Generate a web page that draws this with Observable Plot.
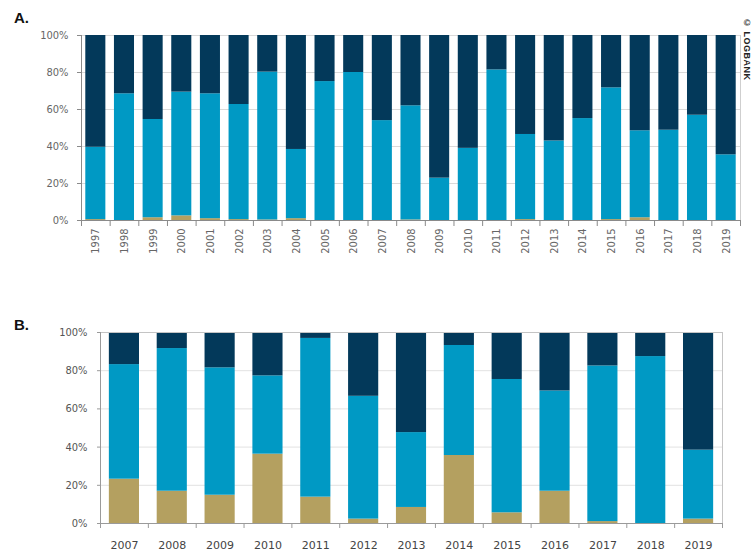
<!DOCTYPE html>
<html><head><meta charset="utf-8">
<script src="https://cdn.jsdelivr.net/npm/d3@7"></script>
<script src="https://cdn.jsdelivr.net/npm/@observablehq/plot@0.6"></script>
<style>
body{margin:0;background:#fff;}
#wrap{position:relative;width:755px;height:554px;overflow:hidden;font-family:"Liberation Sans",Arial,sans-serif;}
.panel{position:absolute;left:0;}
.lab{position:absolute;font:bold 15px "Liberation Sans",Arial,sans-serif;color:#111;}
#copy{position:absolute;left:742px;top:18px;writing-mode:vertical-rl;font:bold 9px "Liberation Sans",Arial,sans-serif;color:#222;letter-spacing:0.5px;}
</style></head><body>
<div id="wrap">
<div id="pa" class="panel" style="top:0"></div>
<div id="pb" class="panel" style="top:300px"></div>
<div class="lab" style="left:14px;top:9px">A.</div>
<div class="lab" style="left:14px;top:316px">B.</div>
<div id="copy">© LOGBANK</div>
</div>
<script>
// ---- Panel A data (share in %) ----
const yearsA = ["1997","1998","1999","2000","2001","2002","2003","2004","2005","2006","2007","2008","2009","2010","2011","2012","2013","2014","2015","2016","2017","2018","2019"];
const seg1A = [0.5, 0, 1.5, 2.5, 1.0, 0.5, 0.3, 1.0, 0, 0, 0, 0.3, 0, 0, 0, 0.5, 0, 0, 0.5, 1.5, 0, 0, 0];
const seg2A = [39.1, 68.5, 53.1, 66.9, 67.5, 62.2, 79.9, 37.4, 75.1, 80.0, 54.0, 61.7, 22.9, 39.0, 81.4, 46.0, 43.0, 55.1, 71.2, 47.0, 48.8, 56.9, 35.5];
const seg3A = [60.4, 31.5, 45.4, 30.6, 31.5, 37.3, 19.8, 61.6, 24.9, 20.0, 46.0, 38.0, 77.1, 61.0, 18.6, 53.5, 57.0, 44.9, 28.3, 51.5, 51.2, 43.1, 64.5];

// ---- Panel B data (share in %) ----
const yearsB = ["2007","2008","2009","2010","2011","2012","2013","2014","2015","2016","2017","2018","2019"];
const seg1B = [23.2, 16.9, 14.8, 36.3, 13.8, 2.3, 8.4, 35.6, 5.6, 16.9, 1.0, 0, 2.3];
const seg2B = [60.0, 74.7, 66.7, 41.0, 83.1, 64.3, 39.2, 57.6, 69.8, 52.5, 81.5, 87.4, 36.1];
const seg3B = [16.8, 8.4, 18.5, 22.7, 3.1, 33.4, 52.4, 6.8, 24.6, 30.6, 17.5, 12.6, 61.6];

const categories = ["segment 1", "segment 2", "segment 3"];
const colors = ["#b4a060", "#0099c4", "#03395a"];
const yTicks = [0, 20, 40, 60, 80, 100];

function toRows(years, s1, s2, s3) {
  return years.flatMap((y, i) => [
    {year: y, cat: categories[0], value: s1[i]},
    {year: y, cat: categories[1], value: s2[i]},
    {year: y, cat: categories[2], value: s3[i]}
  ]);
}

const W = 755;
const condensed = "'DejaVu Sans Condensed', 'Liberation Sans Narrow', 'DejaVu Sans', sans-serif";

// ---- Panel A ----
{
  const ml = 81, mr = 15, pi = 0.3;
  const step = (W - ml - mr) / yearsA.length;
  const chart = Plot.plot({
    width: W, height: 270,
    marginLeft: ml, marginRight: mr, marginTop: 35, marginBottom: 50,
    style: {fontFamily: condensed, fontSize: "11px", color: "#666", background: "transparent"},
    x: {type: "band", domain: yearsA, paddingInner: pi, paddingOuter: pi / 2, round: false},
    y: {domain: [0, 100]},
    color: {type: "ordinal", domain: categories, range: colors},
    marks: [
      Plot.gridY(yTicks.slice(1), {stroke: "#dadada", strokeOpacity: 1}),
      Plot.barY(toRows(yearsA, seg1A, seg2A, seg3A), {x: "year", y: "value", fill: "cat"}),
      Plot.frame({anchor: "right", stroke: "#cfcfcf"}),
      Plot.frame({anchor: "left", stroke: "#8a8a8a"}),
      Plot.ruleY([0], {stroke: "#8a8a8a"}),
      Plot.axisY({ticks: yTicks, tickFormat: d => d + "%", tickSize: 4, tickPadding: 9, color: "#8a8a8a", fill: "#666", label: null}),
      Plot.axisX({tickSize: 0, tickRotate: -90, tickPadding: 8, fill: "#666", label: null}),
      Plot.axisX({tickSize: 6, tickFormat: () => "", dx: -step / 2, color: "#8a8a8a", label: null}),
      Plot.axisX({ticks: [yearsA[yearsA.length - 1]], tickSize: 6, tickFormat: () => "", dx: step / 2, color: "#8a8a8a", label: null})
    ]
  });
  document.getElementById("pa").appendChild(chart);
}

// ---- Panel B ----
{
  const ml = 100, mr = 33, pi = 0.37;
  const step = (W - ml - mr) / yearsB.length;
  const chart = Plot.plot({
    width: W, height: 254,
    marginLeft: ml, marginRight: mr, marginTop: 32, marginBottom: 31,
    style: {fontFamily: condensed, fontSize: "11px", color: "#555", background: "transparent"},
    x: {type: "band", domain: yearsB, paddingInner: pi, paddingOuter: pi / 2, round: false},
    y: {domain: [0, 100]},
    color: {type: "ordinal", domain: categories, range: colors},
    marks: [
      Plot.gridY(yTicks.slice(1), {stroke: "#e2e2e2", strokeOpacity: 1}),
      Plot.barY(toRows(yearsB, seg1B, seg2B, seg3B), {x: "year", y: "value", fill: "cat"}),
      Plot.frame({anchor: "top", stroke: "#c4c4c4"}),
      Plot.frame({anchor: "right", stroke: "#c4c4c4"}),
      Plot.frame({anchor: "left", stroke: "#9a9a9a"}),
      Plot.ruleY([0], {stroke: "#9a9a9a"}),
      Plot.axisY({ticks: yTicks, tickFormat: d => d + "%", tickSize: 3, tickPadding: 10, color: "#9a9a9a", fill: "#555", label: null}),
      Plot.axisX({tickSize: 0, tickPadding: 18, fill: "#444", fontFamily: "'DejaVu Sans', Verdana, sans-serif", fontSize: 11, label: null}),
      Plot.axisX({tickSize: 5, tickFormat: () => "", dx: -step / 2, color: "#9a9a9a", label: null}),
      Plot.axisX({ticks: [yearsB[yearsB.length - 1]], tickSize: 5, tickFormat: () => "", dx: step / 2, color: "#9a9a9a", label: null})
    ]
  });
  document.getElementById("pb").appendChild(chart);
}
</script>
</body></html>
